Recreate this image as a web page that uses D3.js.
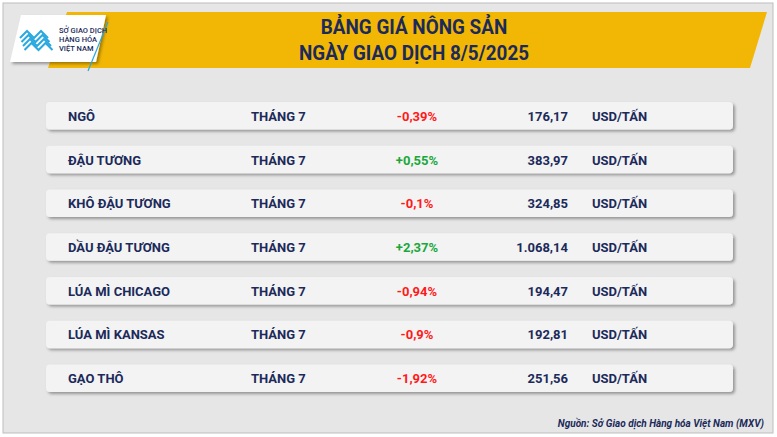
<!DOCTYPE html><html><head><meta charset="utf-8"><script src="https://cdn.jsdelivr.net/npm/d3@7"></script>
<style>body{margin:0;background:#fff}svg{display:block;font-family:Roboto,sans-serif}</style></head><body><svg id="c" width="777" height="437"></svg>
<script>
const names=["NGÔ","ĐẬU TƯƠNG","KHÔ ĐẬU TƯƠNG","DẦU ĐẬU TƯƠNG","LÚA MÌ CHICAGO","LÚA MÌ KANSAS","GẠO THÔ"];
const months=["THÁNG 7","THÁNG 7","THÁNG 7","THÁNG 7","THÁNG 7","THÁNG 7","THÁNG 7"];
const changes=["-0,39%","+0,55%","-0,1%","+2,37%","-0,94%","-0,9%","-1,92%"];
const prices=["176,17","383,97","324,85","1.068,14","194,47","192,81","251,56"];
const units=["USD/TẤN","USD/TẤN","USD/TẤN","USD/TẤN","USD/TẤN","USD/TẤN","USD/TẤN"];
const svg=d3.select("#c");
const defs=svg.append("defs");
const f=defs.append("filter").attr("id","sh").attr("x","-5%").attr("y","-30%").attr("width","110%").attr("height","170%");
f.append("feDropShadow").attr("dx",2).attr("dy",2).attr("stdDeviation",1.5).attr("flood-color","#000").attr("flood-opacity",0.35);
svg.append("rect").attr("x",0).attr("y",0).attr("width",777).attr("height",437).attr("fill","#fff");
svg.append("rect").attr("x",3).attr("y",3).attr("width",770).attr("height",430).attr("fill","#e6e6e6").attr("stroke","#bdbdbd");
svg.append("path").attr("d","M67,12 L767,12 L750,68 L48,68 Z").attr("fill","#f2b705");
svg.append("path").attr("d","M21,15 L106,15 L96,62 L10,62 Z").attr("fill","#fff").attr("filter","url(#sh)");
svg.append("line").attr("x1",108).attr("y1",22).attr("x2",88).attr("y2",71).attr("stroke","#2aa8e0").attr("stroke-width",1.2);
const lg=svg.append("g").attr("transform","translate(20,30)");
for(let i=0;i<4;i++){lg.append("path").attr("d","M0,8 l7,-7 l7,7 l7,-7 l7,7").attr("fill","none").attr("stroke","#2aa8e0").attr("stroke-width",2).attr("transform",`translate(${i*1.5},${i*4})`);}
const lt=svg.append("g").attr("font-size",7.5).attr("fill","#1b2a5a").attr("font-weight",500);
["SỞ GIAO DỊCH","HÀNG HÓA","VIỆT NAM"].forEach((t,i)=>lt.append("text").attr("x",59).attr("y",33+i*9).text(t));
const tt=(yy,s)=>svg.append("text").attr("x",414).attr("y",yy).attr("text-anchor","middle").attr("font-size",21).attr("font-weight",700).attr("fill","#1b2a5a").attr("transform","translate(414,0) scale(0.9,1) translate(-414,0)").text(s);
tt(34,"BẢNG GIÁ NÔNG SẢN");tt(60,"NGÀY GIAO DỊCH 8/5/2025");
const y=d3.scaleBand().domain(d3.range(names.length)).range([102,392]).paddingInner(0.37);
const g=svg.selectAll("g.row").data(names).join("g").attr("class","row").attr("transform",(d,i)=>`translate(0,${y(i)})`);
const h=y.bandwidth();
g.append("rect").attr("x",46).attr("width",687).attr("height",h).attr("rx",4).attr("fill","#f3f3f3").attr("filter","url(#sh)");
const T=(sel,x,anchor,txt,col)=>sel.append("text").attr("x",x).attr("y",h/2+5).attr("text-anchor",anchor).attr("font-size",13).attr("font-weight",700).attr("fill",col).text(txt);
g.each(function(d,i){const s=d3.select(this);
T(s,68,"start",names[i],"#1b2a5a");T(s,251,"start",months[i],"#1b2a5a");
T(s,417,"middle",changes[i],changes[i][0]=="-"?"#ff1a1a":"#1aa83a");
T(s,568,"end",prices[i],"#1b2a5a");T(s,592,"start",units[i],"#1b2a5a");});
svg.append("text").attr("x",764).attr("y",427).attr("text-anchor","end").attr("font-size",10).attr("font-style","italic").attr("font-weight",700).attr("fill","#1b2a5a").text("Nguồn: Sở Giao dịch Hàng hóa Việt Nam (MXV)");
</script></body></html>
